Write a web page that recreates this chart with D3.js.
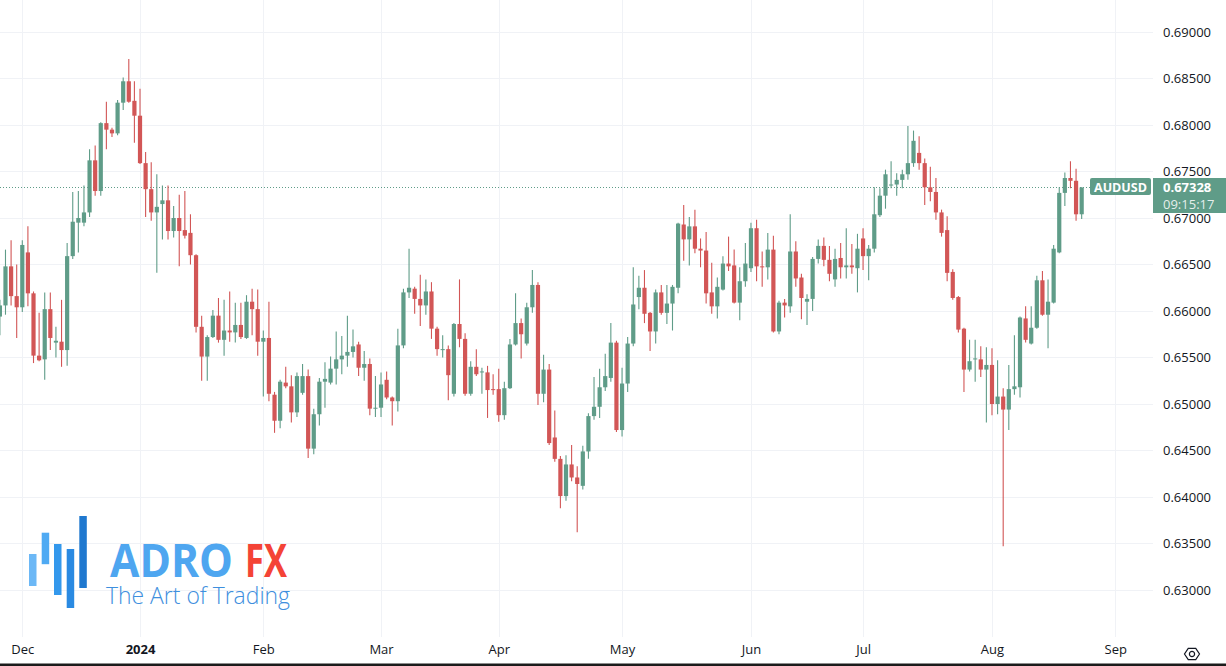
<!DOCTYPE html>
<html>
<head>
<meta charset="utf-8">
<script src="https://cdn.jsdelivr.net/npm/d3@7"></script>
<style>
  html, body { margin: 0; padding: 0; background: #ffffff; }
  svg { display: block; }
  text { font-family: "Open Sans", "Noto Sans", sans-serif; }
</style>
</head>
<body>
<svg id="chart" width="1226" height="666"></svg>
<script>
// ---------------- DATA ----------------
const symbol = "AUDUSD";
const lastPrice = 0.67328;
const countdown = "09:15:17";
const firstDay = "2023-11-27";
const holidays = ["2024-01-01"];
const priceTicks = [0.63, 0.635, 0.64, 0.645, 0.65, 0.655, 0.66, 0.665, 0.67, 0.675, 0.68, 0.685, 0.69];

const open = [
0.6594,0.6606,0.6648,0.6616,0.6604,0.6663,0.6619,0.6552,0.6548,0.6602,
0.6566,0.6567,0.6558,0.6659,0.6695,0.6695,0.6706,0.6762,0.6729,0.6802,
0.6795,0.6791,0.6824,0.6847,0.6826,0.6810,0.6759,0.6731,0.6706,0.6715,
0.6719,0.6686,0.6700,0.6687,0.6684,0.6660,0.6583,0.6551,0.6572,0.6595,
0.6569,0.6579,0.6577,0.6585,0.6571,0.6610,0.6602,0.6567,0.6571,0.6510,
0.6482,0.6523,0.6519,0.6491,0.6512,0.6530,0.6452,0.6489,0.6524,0.6523,
0.6538,0.6548,0.6552,0.6556,0.6564,0.6539,0.6543,0.6495,0.6496,0.6526,
0.6507,0.6503,0.6563,0.6620,0.6624,0.6613,0.6606,0.6621,0.6581,0.6558,
0.6559,0.6511,0.6586,0.6570,0.6511,0.6540,0.6534,0.6534,0.6516,0.6516,
0.6488,0.6517,0.6564,0.6587,0.6565,0.6604,0.6628,0.6511,0.6537,0.6464,
0.6441,0.6401,0.6435,0.6421,0.6412,0.6449,0.6487,0.6497,0.6518,0.6528,
0.6566,0.6472,0.6522,0.6565,0.6615,0.6625,0.6598,0.6578,0.6620,0.6598,
0.6608,0.6625,0.6693,0.6677,0.6691,0.6667,0.6665,0.6620,0.6605,0.6623,
0.6651,0.6649,0.6609,0.6632,0.6646,0.6689,0.6648,0.6647,0.6666,0.6578,
0.6609,0.6605,0.6664,0.6636,0.6610,0.6613,0.6656,0.6670,0.6655,0.6634,
0.6657,0.6647,0.6649,0.6646,0.6678,0.6659,0.6667,0.6703,0.6724,0.6735,
0.6736,0.6741,0.6747,0.6759,0.6770,0.6759,0.6733,0.6728,0.6706,0.6687,
0.6642,0.6615,0.6581,0.6537,0.6548,0.6548,0.6537,0.6542,0.6500,0.6508,
0.6494,0.6516,0.6518,0.6592,0.6565,0.6582,0.6633,0.6596,0.6609,0.6663,
0.6727,0.6743,0.6740,0.6704
];
const high = [
0.6612,0.6666,0.6676,0.6650,0.6676,0.6691,0.6621,0.6598,0.6620,0.6620,
0.6583,0.6612,0.6673,0.6728,0.6729,0.6735,0.6774,0.6778,0.6803,0.6825,
0.6797,0.6827,0.6851,0.6871,0.6847,0.6839,0.6771,0.6760,0.6747,0.6735,
0.6735,0.6713,0.6725,0.6729,0.6704,0.6661,0.6595,0.6574,0.6601,0.6614,
0.6612,0.6621,0.6609,0.6609,0.6617,0.6624,0.6623,0.6579,0.6610,0.6513,
0.6526,0.6540,0.6531,0.6534,0.6543,0.6537,0.6495,0.6528,0.6545,0.6551,
0.6578,0.6573,0.6595,0.6580,0.6567,0.6557,0.6549,0.6530,0.6534,0.6535,
0.6508,0.6581,0.6624,0.6667,0.6626,0.6639,0.6634,0.6631,0.6583,0.6574,
0.6563,0.6587,0.6634,0.6576,0.6546,0.6559,0.6539,0.6541,0.6532,0.6538,
0.6524,0.6570,0.6619,0.6592,0.6609,0.6644,0.6631,0.6553,0.6543,0.6493,
0.6444,0.6445,0.6456,0.6433,0.6455,0.6490,0.6529,0.6538,0.6554,0.6587,
0.6568,0.6539,0.6572,0.6647,0.6638,0.6644,0.6599,0.6623,0.6628,0.6628,
0.6628,0.6695,0.6714,0.6701,0.6709,0.6678,0.6685,0.6652,0.6636,0.6659,
0.6680,0.6666,0.6647,0.6673,0.6695,0.6698,0.6664,0.6684,0.6681,0.6611,
0.6613,0.6704,0.6675,0.6640,0.6618,0.6658,0.6677,0.6679,0.6670,0.6667,
0.6673,0.6689,0.6672,0.6683,0.6689,0.6671,0.6733,0.6732,0.6752,0.6761,
0.6748,0.6752,0.6799,0.6794,0.6788,0.6764,0.6755,0.6743,0.6709,0.6702,
0.6645,0.6616,0.6582,0.6569,0.6569,0.6562,0.6561,0.6560,0.6547,0.6517,
0.6542,0.6574,0.6594,0.6605,0.6605,0.6638,0.6643,0.6634,0.6671,0.6733,
0.6749,0.6761,0.6753,0.6733
];
const low = [
0.6574,0.6596,0.6606,0.6571,0.6599,0.6605,0.6544,0.6546,0.6526,0.6558,
0.6550,0.6540,0.6541,0.6656,0.6663,0.6691,0.6701,0.6724,0.6724,0.6774,
0.6787,0.6789,0.6816,0.6824,0.6781,0.6758,0.6701,0.6697,0.6641,0.6677,
0.6677,0.6679,0.6648,0.6678,0.6650,0.6577,0.6525,0.6525,0.6571,0.6566,
0.6552,0.6567,0.6566,0.6570,0.6570,0.6574,0.6552,0.6508,0.6503,0.6469,
0.6474,0.6517,0.6480,0.6486,0.6510,0.6442,0.6446,0.6477,0.6496,0.6521,
0.6521,0.6532,0.6540,0.6550,0.6530,0.6525,0.6488,0.6486,0.6486,0.6505,
0.6477,0.6492,0.6560,0.6614,0.6597,0.6584,0.6596,0.6570,0.6552,0.6550,
0.6504,0.6508,0.6561,0.6509,0.6509,0.6530,0.6511,0.6485,0.6510,0.6481,
0.6483,0.6516,0.6563,0.6549,0.6563,0.6598,0.6499,0.6502,0.6456,0.6438,
0.6388,0.6396,0.6417,0.6362,0.6408,0.6441,0.6483,0.6485,0.6514,0.6524,
0.6470,0.6465,0.6513,0.6562,0.6602,0.6587,0.6557,0.6565,0.6596,0.6586,
0.6579,0.6619,0.6654,0.6649,0.6662,0.6647,0.6608,0.6597,0.6592,0.6622,
0.6643,0.6608,0.6590,0.6626,0.6642,0.6632,0.6626,0.6634,0.6577,0.6575,
0.6593,0.6598,0.6626,0.6591,0.6585,0.6600,0.6651,0.6648,0.6632,0.6626,
0.6635,0.6635,0.6640,0.6620,0.6644,0.6633,0.6663,0.6701,0.6710,0.6732,
0.6724,0.6732,0.6741,0.6755,0.6752,0.6714,0.6718,0.6698,0.6680,0.6632,
0.6612,0.6577,0.6513,0.6535,0.6524,0.6529,0.6480,0.6488,0.6489,0.6347,
0.6472,0.6510,0.6507,0.6566,0.6564,0.6581,0.6595,0.6560,0.6608,0.6662,
0.6713,0.6732,0.6697,0.6699
];
const close = [
0.6606,0.6648,0.6616,0.6604,0.6671,0.6619,0.6552,0.6547,0.6602,0.6571,
0.6568,0.6558,0.6659,0.6696,0.6700,0.6706,0.6762,0.6729,0.6802,0.6795,
0.6791,0.6824,0.6847,0.6825,0.6810,0.6759,0.6731,0.6706,0.6712,0.6719,
0.6686,0.6700,0.6686,0.6681,0.6660,0.6583,0.6551,0.6572,0.6595,0.6569,
0.6579,0.6577,0.6585,0.6572,0.6610,0.6602,0.6567,0.6571,0.6511,0.6482,
0.6524,0.6519,0.6491,0.6530,0.6530,0.6452,0.6489,0.6524,0.6527,0.6538,
0.6548,0.6552,0.6556,0.6562,0.6539,0.6543,0.6495,0.6496,0.6521,0.6507,
0.6503,0.6563,0.6620,0.6625,0.6613,0.6606,0.6621,0.6581,0.6559,0.6559,
0.6531,0.6586,0.6570,0.6511,0.6540,0.6532,0.6535,0.6515,0.6515,0.6488,
0.6517,0.6564,0.6587,0.6575,0.6604,0.6628,0.6511,0.6537,0.6458,0.6441,
0.6401,0.6435,0.6421,0.6414,0.6449,0.6487,0.6497,0.6518,0.6530,0.6566,
0.6472,0.6522,0.6565,0.6607,0.6625,0.6597,0.6578,0.6620,0.6598,0.6608,
0.6626,0.6694,0.6677,0.6691,0.6667,0.6665,0.6619,0.6605,0.6626,0.6651,
0.6648,0.6609,0.6632,0.6651,0.6689,0.6648,0.6647,0.6666,0.6578,0.6609,
0.6606,0.6664,0.6635,0.6614,0.6613,0.6656,0.6670,0.6655,0.6640,0.6656,
0.6647,0.6649,0.6647,0.6667,0.6659,0.6667,0.6704,0.6724,0.6747,0.6736,
0.6741,0.6747,0.6759,0.6783,0.6759,0.6733,0.6728,0.6706,0.6684,0.6641,
0.6614,0.6580,0.6537,0.6546,0.6549,0.6537,0.6542,0.6500,0.6508,0.6494,
0.6516,0.6519,0.6593,0.6569,0.6582,0.6633,0.6596,0.6610,0.6667,0.6727,
0.6743,0.6740,0.6704,0.67328
];

// ---------------- CALENDAR (trading days) ----------------
const fmtDay = d3.utcFormat("%Y-%m-%d");
const days = [];
{
  let d = new Date(firstDay + "T00:00:00Z");
  while (days.length < open.length + 10) {
    const wd = d.getUTCDay();
    if (wd !== 0 && wd !== 6 && !holidays.includes(fmtDay(d))) days.push(new Date(d));
    d = d3.utcDay.offset(d, 1);
  }
}
const monthStarts = [];
days.forEach((d, i) => {
  if (i > 0 && d.getUTCMonth() !== days[i - 1].getUTCMonth()) monthStarts.push(i);
});
const candles = open.map((o, i) => ({ i, o, h: high[i], l: low[i], c: close[i] }));

// ---------------- LAYOUT ----------------
const W = 1226, H = 666;
const plotRight = 1153, plotBottom = 637;
const UP = "#5f9c88", DOWN = "#d25656", GRID = "#f0f2f6", TXT = "#131722";

const svg = d3.select("#chart");
svg.append("rect").attr("width", W).attr("height", H).attr("fill", "#fff");

const x = d3.scaleLinear().domain([0, 199]).range([-0.12, 1115.3]);
const y = d3.scaleLinear().domain([0.63, 0.69]).range([590, 32]);

// grid
const grid = svg.append("g");
grid.selectAll("line.h").data(priceTicks).join("line")
  .attr("x1", 0).attr("x2", plotRight)
  .attr("y1", d => Math.round(y(d)) + 0.5).attr("y2", d => Math.round(y(d)) + 0.5)
  .attr("stroke", GRID).attr("stroke-width", 1);
grid.selectAll("line.v").data(monthStarts).join("line")
  .attr("x1", d => Math.round(x(d)) + 0.5).attr("x2", d => Math.round(x(d)) + 0.5)
  .attr("y1", 0).attr("y2", plotBottom)
  .attr("stroke", GRID).attr("stroke-width", 1);

// logo (watermark)
const logo = svg.append("g");
const logoBars = [
  { x: 29, y: 554, w: 7.5, h: 32, c: "#6cb8f6" },
  { x: 41.7, y: 532.7, w: 7.5, h: 31.5, c: "#4faaf3" },
  { x: 54, y: 544, w: 7.5, h: 51, c: "#3398ec" },
  { x: 66.7, y: 549, w: 7.5, h: 59, c: "#2a8ae2" },
  { x: 79.3, y: 516, w: 7.5, h: 72, c: "#1f78cf" }
];
logo.selectAll("rect").data(logoBars).join("rect")
  .attr("x", d => d.x).attr("y", d => d.y).attr("width", d => d.w).attr("height", d => d.h)
  .attr("fill", d => d.c);
logo.append("text").attr("x", 110).attr("y", 577)
  .attr("font-family", "Inter, 'Open Sans', sans-serif").attr("font-weight", 700)
  .attr("font-size", 47).attr("fill", "#4ea6f0")
  .attr("textLength", 123).attr("lengthAdjust", "spacingAndGlyphs").text("ADRO");
logo.append("text").attr("x", 245).attr("y", 577)
  .attr("font-family", "Inter, 'Open Sans', sans-serif").attr("font-weight", 700)
  .attr("font-size", 47).attr("fill", "#f44336")
  .attr("textLength", 42).attr("lengthAdjust", "spacingAndGlyphs").text("FX");
logo.append("text").attr("x", 106).attr("y", 604)
  .attr("font-family", "'Open Sans', sans-serif").attr("font-weight", 300)
  .attr("font-size", 23.5).attr("fill", "#3e8fde")
  .attr("textLength", 184).attr("lengthAdjust", "spacingAndGlyphs").text("The Art of Trading");

// last price dotted line
svg.append("line")
  .attr("x1", 0).attr("x2", 1090)
  .attr("y1", Math.round(y(lastPrice)) + 0.5).attr("y2", Math.round(y(lastPrice)) + 0.5)
  .attr("stroke", UP).attr("stroke-width", 1).attr("stroke-dasharray", "1 2");

// candles
const cg = svg.append("g");
const bw = 4.2;
cg.selectAll("line.wick").data(candles).join("line")
  .attr("x1", d => x(d.i)).attr("x2", d => x(d.i))
  .attr("y1", d => y(d.h)).attr("y2", d => y(d.l))
  .attr("stroke", d => d.c >= d.o ? UP : DOWN).attr("stroke-width", 1.1);
cg.selectAll("rect.body").data(candles).join("rect")
  .attr("x", d => x(d.i) - bw / 2)
  .attr("y", d => y(Math.max(d.o, d.c)))
  .attr("width", bw)
  .attr("height", d => Math.max(1, Math.abs(y(d.o) - y(d.c))))
  .attr("fill", d => d.c >= d.o ? UP : DOWN);

// price axis
const yAxis = d3.axisRight(y).tickValues(priceTicks).tickFormat(d3.format(".5f")).tickSize(0).tickPadding(0);
const ya = svg.append("g").attr("transform", `translate(1163,0)`).call(yAxis);
ya.select(".domain").remove();
ya.selectAll("text").attr("font-size", 13).attr("fill", TXT).attr("font-family", "'Open Sans', sans-serif");

// time axis
const monthFmt = d3.utcFormat("%b");
const xAxis = d3.axisBottom(x).tickValues(monthStarts)
  .tickFormat(i => days[i].getUTCMonth() === 0 ? String(days[i].getUTCFullYear()) : monthFmt(days[i]))
  .tickSize(0).tickPadding(0);
const xa = svg.append("g").attr("transform", `translate(0,645)`).call(xAxis);
xa.select(".domain").remove();
xa.selectAll("text").attr("font-size", 13).attr("fill", TXT).attr("font-family", "'Open Sans', sans-serif")
  .attr("font-weight", i => days[i].getUTCMonth() === 0 ? 700 : 400);

// symbol + price labels
const ly = Math.round(y(lastPrice));
svg.append("rect").attr("x", 1090).attr("y", ly - 9).attr("width", 61).attr("height", 17)
  .attr("rx", 2).attr("fill", UP);
svg.append("text").attr("x", 1120.5).attr("y", ly + 4.5).attr("text-anchor", "middle")
  .attr("font-size", 12.5).attr("font-weight", 700).attr("fill", "#fff").text(symbol);
svg.append("rect").attr("x", 1153).attr("y", ly - 9).attr("width", 73).attr("height", 35)
  .attr("fill", UP);
svg.append("text").attr("x", 1163).attr("y", ly + 5).attr("font-size", 13).attr("font-weight", 700)
  .attr("fill", "#fff").text(d3.format(".5f")(lastPrice));
svg.append("text").attr("x", 1163).attr("y", ly + 22).attr("font-size", 13)
  .attr("fill", "#fff").attr("fill-opacity", 0.85).text(countdown);

// settings icon
const gi = svg.append("g").attr("transform", "translate(1192,654)");
const hex = d3.range(6).map(k => [7.5 * Math.cos(k * Math.PI / 3), 6.5 * Math.sin(k * Math.PI / 3)]);
gi.append("path").attr("d", "M" + hex.map(p => p.join(",")).join("L") + "Z")
  .attr("fill", "none").attr("stroke", TXT).attr("stroke-width", 1.2);
gi.append("circle").attr("r", 2.6).attr("fill", "none").attr("stroke", TXT).attr("stroke-width", 1.2);

// bottom border
svg.append("rect").attr("x", 0).attr("y", 663.5).attr("width", W).attr("height", 2.5).attr("fill", "#1b1b1b");
</script>
</body>
</html>
